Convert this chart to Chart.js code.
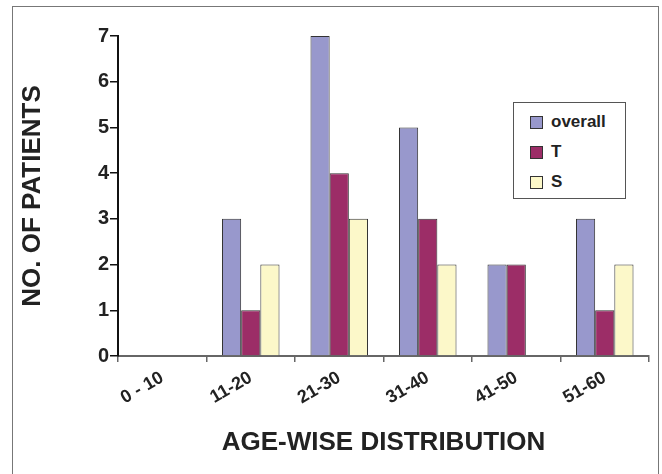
<!DOCTYPE html>
<html lang="en">
  <head>
    <meta charset="UTF-8" />
    <title>Age-wise distribution</title>
    <style>
      body {
        margin: 0;
        padding: 0;
        background-color: #fff;
        font-family: "Liberation Sans", Arial, sans-serif;
      }
      .page {
        position: relative;
        width: 662px;
        height: 474px;
        overflow: hidden;
      }
      .frame {
        position: absolute;
        left: 12px;
        top: 6px;
        width: 645px;
        height: 480px;
        border: 1.5px solid #777;
        border-bottom: none;
      }
      canvas {
        position: absolute;
        left: 0;
        top: 0;
      }
      .legend {
        position: absolute;
        left: 513px;
        top: 102px;
        width: 113px;
        height: 97px;
        border: 1.5px solid #555;
        background: #fff;
        box-sizing: border-box;
        padding-top: 4px;
      }
      .legend-item {
        display: flex;
        align-items: center;
        height: 30px;
        padding-left: 16px;
        font-weight: bold;
        font-size: 17px;
        color: #222;
      }
      .legend-box {
        width: 11px;
        height: 11px;
        border: 1px solid #333;
        margin-right: 8px;
      }
    </style>
  </head>
  <body>
    <div class="page">
      <div class="frame"></div>
      <canvas id="age-chart" width="662" height="474"></canvas>
      <div class="legend" id="legend"></div>
    </div>

    <script src="https://cdn.jsdelivr.net/npm/chart.js@4.4.0/dist/chart.umd.min.js"></script>
    <script>
      const ageGroups = ["0 - 10", "11-20", "21-30", "31-40", "41-50", "51-60"];
      const overall = [0, 3, 7, 5, 2, 3];
      const tGroup = [0, 1, 4, 3, 2, 1];
      const sGroup = [0, 2, 3, 2, 0, 2];
      const yTicks = [0, 1, 2, 3, 4, 5, 6, 7];

      const fontFamily = "'Liberation Sans', Arial, sans-serif";

      const datasets = [
        { label: "overall", data: overall, backgroundColor: "#9898cc" },
        { label: "T", data: tGroup, backgroundColor: "#9c2d67" },
        { label: "S", data: sGroup, backgroundColor: "#fcf8c9" },
      ].map((d) => ({
        ...d,
        borderColor: "#333",
        borderWidth: 1,
        categoryPercentage: 0.65,
        barPercentage: 1.0,
      }));

      const ctx = document.getElementById("age-chart").getContext("2d");
      const chart = new Chart(ctx, {
        type: "bar",
        data: { labels: ageGroups, datasets: datasets },
        options: {
          responsive: false,
          devicePixelRatio: 1,
          animation: false,
          layout: { padding: { left: 0, right: 13, top: 36, bottom: 0 } },
          plugins: {
            legend: { display: false },
            tooltip: { enabled: false },
          },
          scales: {
            x: {
              grid: {
                offset: true,
                drawOnChartArea: false,
                drawTicks: true,
                tickLength: 6,
                color: "#666",
                lineWidth: 1.5,
              },
              border: { color: "#666", width: 2 },
              ticks: {
                color: "#222",
                font: { family: fontFamily, size: 18, weight: "bold" },
                minRotation: 30,
                maxRotation: 30,
                padding: 5,
              },
              title: {
                display: true,
                text: "AGE-WISE DISTRIBUTION",
                color: "#222",
                font: { family: fontFamily, size: 26, weight: "bold" },
                padding: { top: 0, bottom: 16 },
              },
              afterFit: (scale) => {
                scale.height = 118;
              },
            },
            y: {
              min: 0,
              max: 7,
              afterBuildTicks: (scale) => {
                scale.ticks = yTicks.map((v) => ({ value: v }));
              },
              grid: {
                drawOnChartArea: false,
                drawTicks: true,
                tickLength: 8,
                color: "#111",
                lineWidth: 1.5,
              },
              border: { color: "#111", width: 2 },
              ticks: {
                color: "#222",
                font: { family: fontFamily, size: 20, weight: "bold" },
                padding: 1,
              },
              title: {
                display: true,
                text: "NO. OF PATIENTS",
                color: "#222",
                font: { family: fontFamily, size: 26, weight: "bold" },
                padding: { top: 17, bottom: 0 },
              },
              afterFit: (scale) => {
                scale.width = 118;
              },
            },
          },
        },
      });

      // legend inside the plot, built from the datasets
      const legend = document.getElementById("legend");
      chart.data.datasets.forEach((ds) => {
        const item = document.createElement("div");
        item.className = "legend-item";
        const box = document.createElement("span");
        box.className = "legend-box";
        box.style.backgroundColor = ds.backgroundColor;
        item.appendChild(box);
        item.appendChild(document.createTextNode(ds.label));
        legend.appendChild(item);
      });
    </script>
  </body>
</html>
